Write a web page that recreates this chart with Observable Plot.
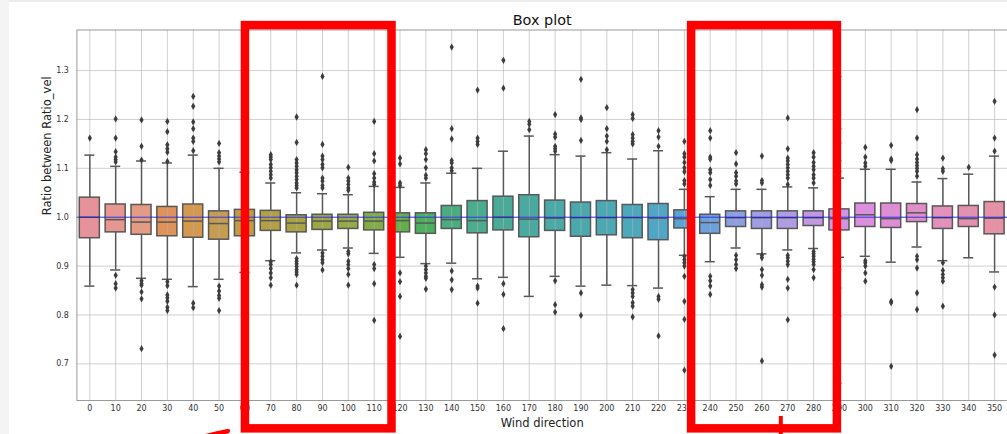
<!DOCTYPE html>
<html>
<head>
<meta charset="utf-8">
<script src="https://cdn.jsdelivr.net/npm/d3@7"></script>
<script src="https://cdn.jsdelivr.net/npm/@observablehq/plot@0.6"></script>
<style>
  html, body { margin: 0; padding: 0; background: #fff; }
  #chart svg { display: block; }
</style>
</head>
<body>
<div id="chart"></div>
<script>
// ---- data ----
const cats = ["0","10","20","30","40","50","60","70","80","90","100","110","120","130","140","150","160","170","180","190","200","210","220","230","240","250","260","270","280","290","300","310","320","330","340","350"];
const q1 =     [0.957,0.969,0.964,0.961,0.958,0.954,0.961,0.972,0.969,0.974,0.976,0.973,0.969,0.966,0.976,0.967,0.973,0.959,0.972,0.960,0.963,0.957,0.953,0.977,0.966,0.980,0.976,0.976,0.982,0.973,0.980,0.978,0.990,0.976,0.980,0.965];
const median = [1.000,0.995,0.990,0.990,0.992,0.987,0.993,0.993,0.988,0.992,0.992,0.992,0.993,0.988,0.995,0.993,1.000,0.996,0.998,0.999,0.999,0.999,0.998,0.997,0.989,0.999,0.999,0.999,0.999,0.997,1.005,0.997,1.009,0.999,0.997,0.998];
const q3 =     [1.040,1.026,1.025,1.021,1.026,1.012,1.015,1.013,1.004,1.005,1.005,1.009,1.008,1.008,1.023,1.033,1.042,1.045,1.034,1.030,1.033,1.025,1.027,1.014,1.005,1.012,1.012,1.012,1.012,1.016,1.028,1.028,1.027,1.022,1.023,1.031];
const whiskerLow =  [0.859,0.892,0.875,0.873,0.858,0.873,0.887,0.911,0.927,0.933,0.937,0.926,0.918,0.905,0.906,0.874,0.877,0.838,0.879,0.859,0.861,0.860,0.855,0.922,0.909,0.937,0.925,0.933,0.936,0.918,0.920,0.908,0.939,0.911,0.917,0.888];
const whiskerHigh = [1.127,1.104,1.115,1.111,1.127,1.100,1.092,1.070,1.050,1.048,1.046,1.063,1.061,1.070,1.090,1.100,1.135,1.166,1.128,1.125,1.132,1.119,1.136,1.057,1.042,1.057,1.057,1.062,1.060,1.080,1.098,1.098,1.072,1.079,1.088,1.125];
const outliers = [
  [1.162],
  [1.201,1.162,1.134,1.123,1.118,1.113,0.881,0.864,0.855],
  [1.199,1.145,1.117,0.870,0.864,0.861,0.847,0.833,0.731],
  [1.196,1.175,1.148,1.140,1.133,1.114,0.868,0.860,0.841,0.835,0.828,0.816,0.809],
  [1.247,1.227,1.195,1.181,1.162,1.155,1.136,0.824,0.815],
  [1.151,1.132,1.125,1.119,1.113,0.859,0.849,0.840,0.834,0.809],
  [1.140,1.120,0.860,0.840],
  [1.128,1.123,1.118,1.108,1.101,1.094,1.087,1.080,0.909,0.903,0.895,0.886,0.876,0.861],
  [1.205,1.153,1.118,1.111,1.104,1.097,1.091,1.084,1.077,1.070,1.065,1.060,0.915,0.910,0.905,0.899,0.893,0.888,0.883,0.861],
  [1.288,1.149,1.125,1.118,1.108,1.101,1.080,1.074,1.065,1.060,0.927,0.920,0.913,0.907,0.892],
  [1.102,1.080,1.074,1.067,1.060,1.055,0.930,0.925,0.910,0.903,0.895,0.883,0.861],
  [1.196,1.130,1.115,1.089,1.080,1.072,1.067,0.903,0.895,0.864,0.789],
  [1.121,1.109,1.070,1.065,0.886,0.868,0.838,0.756],
  [1.138,1.130,1.118,1.101,1.086,1.080,0.900,0.893,0.886,0.879,0.875,0.853],
  [1.348,1.181,1.160,1.116,1.111,1.101,1.095,0.890,0.872,0.852],
  [1.260,1.162,1.155,1.149,0.859,0.855,0.824],
  [1.321,1.264,0.864,0.842,0.772],
  [1.196,1.190,1.179],
  [1.210,1.170,1.164,1.145,1.140,1.135,0.870,0.821,0.806],
  [1.282,1.203,1.200,1.157,0.845,0.799],
  [1.224,1.181,1.166,1.155,1.138],
  [1.210,1.202,1.169,1.162,1.155,1.150,0.852,0.845,0.838,0.825,0.818,0.796],
  [1.177,1.164,1.145,0.838,0.832,0.757],
  [1.155,1.130,1.123,1.112,1.101,1.093,1.075,1.068,0.920,0.913,0.907,0.900,0.879,0.828,0.791,0.687],
  [1.177,1.162,1.123,1.119,1.097,1.091,1.077,1.065,0.879,0.870,0.859,0.842],
  [1.132,1.109,1.091,1.084,1.074,1.068,0.922,0.913,0.903,0.895],
  [1.125,1.075,1.070,0.922,0.917,0.893,0.881,0.862,0.857,0.706],
  [1.203,1.140,1.121,1.115,1.108,1.101,1.094,1.087,1.080,1.067,0.922,0.917,0.910,0.903,0.873,0.855,0.790],
  [1.132,1.123,1.112,1.104,1.097,1.087,1.080,1.070,0.930,0.925,0.920,0.914,0.909,0.903,0.893,0.876],
  [1.288,1.181,1.152,1.115,1.094,0.893,0.855,0.798,0.660],
  [1.143,1.123,1.111,1.104,0.911,0.907,0.900,0.886,0.869],
  [1.147,1.119,1.116,0.828,0.825,0.695],
  [1.220,1.162,1.128,1.119,1.112,1.106,1.100,1.094,1.084,0.920,0.913,0.896,0.845,0.811],
  [1.121,1.099,1.094,0.907,0.891,0.883,0.876,0.869,0.818],
  [1.102],
  [1.237,1.162,1.135,0.857,0.800,0.718]
];
const colors = ["#e8919b","#e8968f","#e59a82","#e09258","#d5984f","#c69c4f","#bc9d48","#b3a044","#a8a444","#9fa645","#93aa45","#80ad45","#62af48","#4caf5f","#49ad80","#4aad8f","#49ab97","#4aaa9f","#4aaaa7","#4ba9ad","#4ba9b3","#4da8bb","#50a7c5","#57a4d4","#6ca1de","#8c9fe2","#a09de4","#b09ce5","#c298e4","#d095e3","#dd8ee1","#e08cd7","#e38dc8","#e58fbb","#e690b1","#e891a6"];
const yTicks = [0.7, 0.8, 0.9, 1.0, 1.1, 1.2, 1.3];
const titleText = "Box plot";
const xLabel = "Wind direction";
const yLabel = "Ratio between Ratio_vel";
const reference = 1.0;
// red hand-drawn highlights (category index positions, value extents)
const highlightFrom = [6.02, 23.28];
const highlightTo = [11.69, 28.92];
const highlightTop = 1.392;
const highlightBottom = 0.567;

// ---- tables built from arrays ----
const boxes = cats.map((c, i) => ({cat: c, q1: q1[i], med: median[i], q3: q3[i], lo: whiskerLow[i], hi: whiskerHigh[i], color: colors[i]}));
const fliers = cats.flatMap((c, i) => outliers[i].map(v => ({cat: c, v})));

const edge = "#585858";

function highlights(index, scales, values, dims) {
  const x = scales.x, y = scales.y;
  const step = x(cats[1]) - x(cats[0]);
  const cx = i => x(cats[0]) + step * (i + 0.5);
  const g = d3.create("svg:g").attr("fill", "none").attr("stroke", "#ff0000");
  highlightFrom.forEach((f, k) => {
    const x0 = cx(f), x1 = cx(highlightTo[k]);
    const y0 = y(highlightTop), y1 = y(highlightBottom);
    g.append("rect").attr("x", x0).attr("y", y0).attr("width", x1 - x0).attr("height", y1 - y0)
      .attr("stroke-width", 8.5);
  });
  // curved arrow stroke at bottom left (tapering)
  const ax0 = cx(3.9), ax1 = cx(5.35);
  g.append("path")
    .attr("d", `M${ax0},${y(0.543)} Q${(ax0 + ax1) / 2},${y(0.553)} ${ax1},${y(0.561)}`)
    .attr("stroke-width", 4.5).attr("stroke-linecap", "round");
  g.append("path")
    .attr("d", `M${cx(4.8)},${y(0.557)} Q${cx(5.1)},${y(0.559)} ${cx(5.4)},${y(0.563)}`)
    .attr("stroke-width", 2).attr("stroke-linecap", "round");
  // short vertical stroke below second highlight
  const bx = cx(26.75);
  g.append("path")
    .attr("d", `M${bx - 2},${y(0.588)} L${bx},${y(0.588)} L${bx},${y(0.54)}`)
    .attr("stroke-width", 4);
  return g.node();
}

const chart = Plot.plot({
  width: 1007,
  height: 434,
  marginLeft: 76.4,
  marginRight: 0,
  marginTop: 29.5,
  marginBottom: 34,
  style: {
    fontFamily: "DejaVu Sans",
    fontSize: "8px",
    color: "#333",
    background: "linear-gradient(to right, #f4f4f4 9px, transparent 9px), linear-gradient(to bottom, #ececec 2px, #ffffff 2px)"
  },
  x: {type: "band", domain: cats, padding: 0},
  y: {domain: [0.625, 1.383]},
  marks: [
    Plot.barY(boxes, {x: "cat", y1: "q1", y2: "q3", fill: "color", insetLeft: 2.9, insetRight: 2.9}),
    Plot.gridX(cats, {stroke: "#b0b0b0", strokeOpacity: 0.6, strokeWidth: 1}),
    Plot.gridY(yTicks, {stroke: "#b0b0b0", strokeOpacity: 0.6, strokeWidth: 1}),
    Plot.barY(boxes, {x: "cat", y1: "q1", y2: "q3", fill: "none", stroke: edge, strokeWidth: 1.5, insetLeft: 2.9, insetRight: 2.9}),
    Plot.ruleX(boxes, {x: "cat", y1: "lo", y2: "q1", stroke: edge, strokeWidth: 1.5}),
    Plot.ruleX(boxes, {x: "cat", y1: "q3", y2: "hi", stroke: edge, strokeWidth: 1.5}),
    Plot.tickY(boxes, {x: "cat", y: "lo", stroke: edge, strokeWidth: 1.5, insetLeft: 7.9, insetRight: 7.9}),
    Plot.tickY(boxes, {x: "cat", y: "hi", stroke: edge, strokeWidth: 1.5, insetLeft: 7.9, insetRight: 7.9}),
    Plot.tickY(boxes, {x: "cat", y: "med", stroke: edge, strokeWidth: 1.5, insetLeft: 2.9, insetRight: 2.9}),
    Plot.dot(fliers, {x: "cat", y: "v", symbol: "diamond", r: 2.2, fill: "#3d3d3d", stroke: "none"}),
    Plot.ruleY([reference], {stroke: "#0000ff", strokeWidth: 1, strokeOpacity: 0.7}),
    Plot.frame({stroke: "#9a9a9a", strokeWidth: 1}),
    Plot.axisY({ticks: yTicks, tickFormat: d3.format(".1f"), tickSize: 0, tickPadding: 8, label: null, fontSize: 8}),
    Plot.axisX({tickSize: 0, tickPadding: 5, label: null, fontSize: 8}),
    Plot.text([titleText], {frameAnchor: "top", dy: -5, lineAnchor: "bottom", fontSize: 14.4, fill: "#111"}),
    Plot.text([xLabel], {frameAnchor: "bottom", dy: 22.7, lineAnchor: "middle", fontSize: 11.5, fill: "#222"}),
    Plot.text([yLabel], {frameAnchor: "left", dx: -29.5, rotate: -90, lineAnchor: "middle", fontSize: 11.5, fill: "#222"}),
    highlights
  ]
});
document.getElementById("chart").append(chart);
</script>
</body>
</html>
